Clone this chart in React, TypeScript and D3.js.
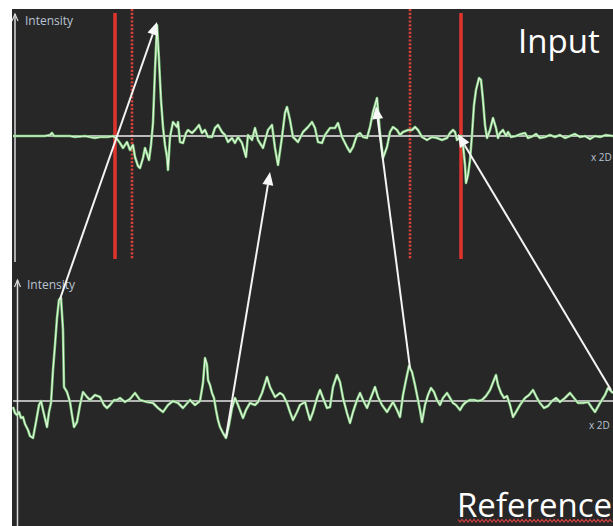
import React from "react";
import * as d3 from "d3";

// Input trace: [time, intensity]
const inputTrace: [number, number][] = [
  [0,0],[17,0],[32,0],[37,1],[39,3],[41,0],[57,0],[62,-1],[72,0],[77,-1],[82,-2],[87,-1],[95,-1],[100,0],
  [104,-3],[107,-7],[110,-12],[114,-6],[117,-14],[120,-9],[122,-21],[125,-30],[127,-32],[130,-22],[132,-12],
  [136,-24],[138,-9],[140,13],[142,66],[144,111],[146,76],[148,36],[150,9],[152,-9],[154,-21],[155,-34],
  [157,-1],[160,14],[164,9],[165,14],[167,-6],[170,-7],[173,3],[175,6],[179,3],[182,6],[186,11],[189,3],
  [192,6],[195,-1],[199,-1],[202,8],[205,11],[209,4],[212,1],[215,-6],[219,-2],[222,-7],[225,-1],[229,-7],
  [233,-21],[235,1],[239,-4],[242,8],[245,-4],[250,-12],[255,6],[259,11],[262,-12],[265,-29],[269,-1],
  [272,23],[274,29],[277,16],[280,-1],[285,-6],[290,4],[295,9],[299,14],[302,8],[305,-6],[309,-7],[312,1],
  [317,8],[322,8],[325,13],[329,-1],[334,-11],[337,-16],[340,-11],[344,1],[347,3],[350,-1],[354,-2],[357,9],
  [360,24],[364,38],[367,3],[370,-22],[374,-11],[377,4],[380,9],[384,6],[387,1],[390,4],[395,6],[399,6],
  [402,9],[405,6],[409,-1],[414,-4],[419,-1],[424,-2],[429,-4],[434,-2],[437,3],[440,6],[442,4],[444,-4],
  [446,-2],[448,0],[450,-9],[452,-29],[453,-47],[455,-39],[457,-24],[459,1],[461,31],[463,46],[466,58],
  [468,56],[470,36],[472,11],[474,-2],[477,6],[480,18],[483,8],[485,-2],[487,3],[490,6],[493,0],[495,4],
  [498,-1],[503,0],[508,2],[512,3],[515,-2],[520,0],[523,2],[527,-2],[532,-1],[537,1],[542,-1],[547,1],
  [552,-2],[557,0],[562,2],[567,-1],[572,0],[577,-3],[582,0],[587,-1],[593,1],[600,0]
];

// Reference trace: [time, intensity]
const referenceTrace: [number, number][] = [
  [0,-6],[2,-12],[4,-14],[6,-11],[8,-17],[10,-16],[12,-23],[15,-29],[17,-35],[20,-37],[23,-21],[26,-4],
  [28,0],[30,-9],[34,-26],[36,-11],[38,-2],[40,31],[42,56],[44,83],[46,101],[48,103],[50,71],[51,14],
  [54,9],[57,-1],[59,-14],[61,-26],[64,-21],[67,-4],[70,9],[74,4],[77,1],[82,6],[87,4],[91,-4],[94,-7],
  [97,-4],[101,1],[104,1],[107,3],[112,-1],[117,2],[122,8],[127,1],[134,-1],[140,-2],[145,-7],[150,-11],
  [155,-4],[160,0],[165,-2],[170,-7],[177,1],[182,-4],[187,0],[190,18],[192,43],[194,36],[195,21],[197,16],
  [199,8],[201,3],[203,-9],[205,-19],[207,-26],[210,-32],[213,-37],[216,-24],[219,-7],[222,3],[225,-4],
  [230,-17],[233,-9],[237,-2],[242,-4],[245,-1],[249,8],[254,24],[257,14],[262,4],[267,8],[270,6],[274,-2],
  [277,-11],[280,-19],[284,-11],[287,-4],[292,-1],[295,-12],[297,-19],[300,-11],[304,3],[307,11],[310,3],
  [314,-7],[317,-6],[320,14],[324,26],[327,19],[330,3],[334,-12],[337,-22],[340,-11],[344,1],[347,8],
  [350,1],[354,-7],[357,1],[362,14],[365,4],[369,-4],[374,-11],[377,-6],[380,-1],[384,-9],[387,-16],
  [390,6],[393,21],[396,35],[399,29],[402,16],[405,1],[407,-9],[409,-21],[412,-4],[415,6],[418,13],[421,9],
  [424,1],[427,-4],[430,3],[434,8],[437,3],[440,-2],[443,-4],[447,-9],[450,-4],[453,-1],[457,1],[461,1],
  [465,0],[469,1],[473,5],[477,11],[481,21],[483,26],[485,16],[488,8],[491,3],[494,5],[497,-4],[500,-16],
  [503,-11],[507,-4],[512,3],[516,6],[520,11],[524,3],[527,-2],[531,-7],[535,-5],[539,0],[543,3],[547,-1],
  [552,3],[557,8],[561,3],[565,-2],[570,-2],[575,-1],[579,-7],[582,-11],[587,-2],[592,6],[595,13],[600,8]
];

// Vertical markers on the input panel (time)
const solidMarkers = [102, 448];
const dottedMarkers = [119, 397];

// Correspondence arrows: from reference point to input point
const arrowLinks = [
  { fromT: 47, fromV: 102, fromPanel: "ref", toT: 144, toV: 114, toPanel: "input" },
  { fromT: 213, fromV: -36, fromPanel: "ref", toT: 257, toV: -36, toPanel: "input" },
  { fromT: 397, fromV: 33, fromPanel: "ref", toT: 363, toV: 30, toPanel: "input" },
  { fromT: 598, fromV: 11, fromPanel: "ref", toT: 445, toV: 2, toPanel: "input" },
];

const axisLabel = "Intensity";
const xAxisLabel = "x 2D";
const inputTitle = "Input";
const referenceTitle = "Reference";

export default function App() {
  const W = 613, H = 526;
  const x = d3.scaleLinear().domain([0, 600]).range([13, 613]);
  const yIn = d3.scaleLinear().domain([0, 100]).range([136, 36]);
  const yRef = d3.scaleLinear().domain([0, 100]).range([401, 301]);
  const yOf = (p: string) => (p === "input" ? yIn : yRef);

  const lineIn = d3.line<[number, number]>().x(d => x(d[0])).y(d => yIn(d[1]));
  const lineRef = d3.line<[number, number]>().x(d => x(d[0])).y(d => yRef(d[1]));

  const arrows = arrowLinks.map((a, i) => {
    const x1 = x(a.fromT), y1 = yOf(a.fromPanel)(a.fromV);
    const x2 = x(a.toT), y2 = yOf(a.toPanel)(a.toV);
    const dx = x2 - x1, dy = y2 - y1;
    const len = Math.hypot(dx, dy);
    const ux = dx / len, uy = dy / len;
    const hl = 13, hw = 5.5;
    const bx = x2 - ux * hl, by = y2 - uy * hl;
    const pts = [
      [x2, y2],
      [bx - uy * hw, by + ux * hw],
      [bx + uy * hw, by - ux * hw],
    ].map(p => p.join(",")).join(" ");
    return (
      <g key={i}>
        <line x1={x1} y1={y1} x2={bx} y2={by} stroke="#f4f4f4" strokeWidth={2} />
        <polygon points={pts} fill="#f8f8f8" />
      </g>
    );
  });

  // wavy underline
  const wave: string[] = [];
  for (let px = 458, k = 0; px <= 613; px += 2, k++) {
    wave.push(`${k === 0 ? "M" : "L"}${px},${k % 2 === 0 ? 519.5 : 522}`);
  }

  const labelColor = "#b9c3d3";
  const font = "'Open Sans', 'DejaVu Sans', sans-serif";

  return (
    <svg width={W} height={H} style={{ position: "absolute", left: 0, top: 0 }}>
      <rect x={0} y={0} width={W} height={H} fill="#ffffff" />
      <rect x={12} y={9} width={W - 12} height={H - 9} fill="#272727" />

      {/* axes */}
      <line x1={15} y1={14} x2={15} y2={262} stroke="#d8d8d8" strokeWidth={1.5} />
      <path d="M12,21 L15,14 L18,21" fill="none" stroke="#d8d8d8" strokeWidth={1.2} />
      <line x1={17.5} y1={280} x2={17.5} y2={526} stroke="#d8d8d8" strokeWidth={1.5} />
      <path d="M14.5,287 L17.5,280 L20.5,287" fill="none" stroke="#d8d8d8" strokeWidth={1.2} />
      <text x={25} y={25} fontSize={12} fill={labelColor} fontFamily={font}>{axisLabel}</text>
      <text x={27} y={289} fontSize={12} fill={labelColor} fontFamily={font}>{axisLabel}</text>

      {/* markers */}
      {solidMarkers.map((t, i) => (
        <line key={"s" + i} x1={x(t)} x2={x(t)} y1={13} y2={259} stroke="#e2342f" strokeWidth={3.5} />
      ))}
      {dottedMarkers.map((t, i) => (
        <line key={"d" + i} x1={x(t)} x2={x(t)} y1={9} y2={259} stroke="#d8403a" strokeWidth={2.6} strokeDasharray="2.2,1.6" />
      ))}

      {/* baselines */}
      <line x1={13} x2={613} y1={yIn(0)} y2={yIn(0)} stroke="#eeeeee" strokeWidth={1.6} />
      <line x1={13} x2={613} y1={yRef(0)} y2={yRef(0)} stroke="#e6e6e6" strokeWidth={1.6} />

      {/* traces */}
      <path d={lineIn(inputTrace) || ""} fill="none" stroke="#79c879" strokeWidth={2.6} strokeLinejoin="round" />
      <path d={lineIn(inputTrace) || ""} fill="none" stroke="#e6f7df" strokeWidth={1.1} strokeLinejoin="round" />
      <path d={lineRef(referenceTrace) || ""} fill="none" stroke="#79c879" strokeWidth={2.6} strokeLinejoin="round" />
      <path d={lineRef(referenceTrace) || ""} fill="none" stroke="#e6f7df" strokeWidth={1.1} strokeLinejoin="round" />

      {arrows}

      <text x={591} y={161} fontSize={10} fill={labelColor} fontFamily={font}>{xAxisLabel}</text>
      <text x={589} y={429} fontSize={10} fill={labelColor} fontFamily={font}>{xAxisLabel}</text>

      <text x={518} y={53} fontSize={33} fill="#ffffff" fontFamily={font}>{inputTitle}</text>
      <text x={457} y={517} fontSize={33} fill="#ffffff" fontFamily={font}>{referenceTitle}</text>
      <path d={wave.join(" ")} fill="none" stroke="#d04040" strokeWidth={1.2} />
    </svg>
  );
}
